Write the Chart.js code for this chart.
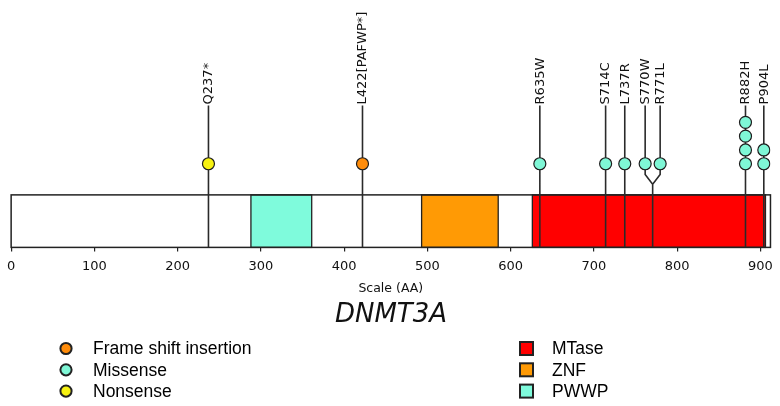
<!DOCTYPE html>
<html>
<head>
<meta charset="utf-8">
<title>DNMT3A</title>
<script src="https://cdn.jsdelivr.net/npm/chart.js@4.4.1/dist/chart.umd.min.js"></script>
<style>
  html, body { margin: 0; padding: 0; background: #fff; }
  canvas { display: block; }
</style>
</head>
<body>
<canvas id="myChart" width="780" height="406"></canvas>
<script>
// mutations (lollipops)
const mutationLabels = ['Q237*', 'L422[PAFWP*]', 'R635W', 'S714C', 'L737R', 'S770W', 'R771L', 'R882H', 'P904L'];
const mutationPositions = [237, 422, 635, 714, 737, 770, 771, 882, 904];
const mutationCounts = [1, 1, 1, 1, 1, 1, 1, 4, 2];
const mutationTypes = ['Nonsense', 'Frame shift insertion', 'Missense', 'Missense', 'Missense',
    'Missense', 'Missense', 'Missense', 'Missense'];

// protein domains
const domainNames = ['PWWP', 'ZNF', 'MTase'];
const domainStarts = [288, 493, 626];
const domainEnds = [361, 585, 906];
const proteinLength = 912;

const tickValues = [0, 100, 200, 300, 400, 500, 600, 700, 800, 900];

const typeColors = {
    'Frame shift insertion': '#ff8c0a',
    'Missense': '#7ff7d6',
    'Nonsense': '#f7f212'
};
const domainColors = { 'MTase': '#ff0000', 'ZNF': '#ff9a05', 'PWWP': '#7ffbdc' };
const legendTypes = ['Frame shift insertion', 'Missense', 'Nonsense'];
const legendDomains = ['MTase', 'ZNF', 'PWWP'];

// vertical layout (y units = pixels above the protein bottom)
const BOX_H = 54;
const FIRST_MARKER = 86;
const MARKER_STEP = 14.2;
const SPLIT_Y = 65;
const KNEE_Y = 75;
const LABEL_BASE = 146;
const SPREAD = 9;

// spread mutations that sit too close together
const displayX = mutationPositions.slice();
const baseX = mutationPositions.slice();
for (let i = 0; i < mutationPositions.length - 1; i++) {
    if (mutationPositions[i + 1] - mutationPositions[i] < 5) {
        const mid = (mutationPositions[i] + mutationPositions[i + 1]) / 2;
        displayX[i] = mid - SPREAD;
        displayX[i + 1] = mid + SPREAD;
        baseX[i] = mid;
        baseX[i + 1] = mid;
        i++;
    }
}

// stems
const stemData = [];
mutationPositions.forEach((p, i) => {
    stemData.push({ x: baseX[i], y: 0 });
    if (baseX[i] !== displayX[i]) {
        stemData.push({ x: baseX[i], y: SPLIT_Y });
        stemData.push({ x: displayX[i], y: KNEE_Y });
    }
    stemData.push({ x: displayX[i], y: LABEL_BASE });
    stemData.push({ x: displayX[i], y: null });
});

// markers, one dataset per mutation type
const markerSets = legendTypes.map(t => {
    const pts = [];
    mutationPositions.forEach((p, i) => {
        if (mutationTypes[i] !== t) return;
        for (let k = 0; k < mutationCounts[i]; k++) {
            pts.push({ x: displayX[i], y: FIRST_MARKER + k * MARKER_STEP });
        }
    });
    return {
        label: t,
        data: pts,
        showLine: false,
        pointRadius: 6,
        pointHoverRadius: 6,
        pointBorderWidth: 1.2,
        pointBorderColor: '#1e1e1e',
        pointBackgroundColor: typeColors[t],
        order: 1
    };
});

const proteinPlugin = {
    id: 'protein',
    beforeDatasetsDraw(chart) {
        const { ctx, scales: { x, y } } = chart;
        const top = y.getPixelForValue(BOX_H);
        const bottom = y.getPixelForValue(0);
        ctx.save();
        ctx.fillStyle = '#fff';
        ctx.fillRect(x.getPixelForValue(0), top, x.getPixelForValue(proteinLength) - x.getPixelForValue(0), bottom - top);
        domainNames.forEach((d, i) => {
            const x0 = x.getPixelForValue(domainStarts[i]);
            const x1 = x.getPixelForValue(domainEnds[i]);
            ctx.fillStyle = domainColors[d];
            ctx.fillRect(x0, top, x1 - x0, bottom - top);
            ctx.strokeStyle = '#222';
            ctx.lineWidth = 1.3;
            ctx.strokeRect(x0, top, x1 - x0, bottom - top);
        });
        ctx.strokeStyle = '#222';
        ctx.lineWidth = 1.5;
        ctx.strokeRect(x.getPixelForValue(0), top, x.getPixelForValue(proteinLength) - x.getPixelForValue(0), bottom - top);
        ctx.restore();
    },
    afterDatasetsDraw(chart) {
        const { ctx, scales: { x, y } } = chart;
        ctx.save();
        ctx.font = '13px "DejaVu Sans"';
        ctx.fillStyle = '#111';
        ctx.textAlign = 'left';
        ctx.textBaseline = 'middle';
        mutationLabels.forEach((lab, i) => {
            ctx.save();
            ctx.translate(x.getPixelForValue(displayX[i]), y.getPixelForValue(LABEL_BASE) - 1);
            ctx.rotate(-Math.PI / 2);
            ctx.fillText(lab, 0, 0.5);
            ctx.restore();
        });
        ctx.restore();
    },
    afterDraw(chart) {
        const ctx = chart.ctx;
        ctx.save();
        // gene name
        ctx.font = 'italic 26px "DejaVu Sans"';
        ctx.fillStyle = '#111';
        ctx.textAlign = 'center';
        ctx.textBaseline = 'middle';
        ctx.fillText('DNMT3A', 391, 315);

        // legend
        ctx.font = '17.5px "Liberation Sans"';
        ctx.textAlign = 'left';
        legendTypes.forEach((t, i) => {
            const cy = 348.5 + i * 21.3;
            ctx.beginPath();
            ctx.arc(66, cy, 5.6, 0, Math.PI * 2);
            ctx.fillStyle = typeColors[t];
            ctx.fill();
            ctx.lineWidth = 2;
            ctx.strokeStyle = '#222';
            ctx.stroke();
            ctx.fillStyle = '#000';
            ctx.fillText(t, 93, cy + 1);
        });
        legendDomains.forEach((d, i) => {
            const cy = 348.5 + i * 21.3;
            ctx.fillStyle = domainColors[d];
            ctx.fillRect(520, cy - 6.5, 13, 13);
            ctx.lineWidth = 2;
            ctx.strokeStyle = '#222';
            ctx.strokeRect(520, cy - 6.5, 13, 13);
            ctx.fillStyle = '#000';
            ctx.fillText(d, 552, cy + 1);
        });
        ctx.restore();
    }
};

const ctx = document.getElementById('myChart');

const config = {
    type: 'scatter',
    data: {
        datasets: [
            ...markerSets,
            {
                label: 'stems',
                data: stemData,
                showLine: true,
                spanGaps: false,
                borderColor: '#2a2a2a',
                borderWidth: 1.6,
                pointRadius: 0,
                pointHoverRadius: 0,
                order: 2
            }
        ]
    },
    options: {
        responsive: false,
        animation: false,
        events: [],
        layout: {
            padding: { left: 11, right: 9, top: 0, bottom: 110 }
        },
        scales: {
            x: {
                type: 'linear',
                min: 0,
                max: proteinLength,
                afterBuildTicks: axis => {
                    axis.ticks = tickValues.map(v => ({ value: v }));
                },
                grid: {
                    display: true,
                    drawOnChartArea: false,
                    drawTicks: true,
                    tickLength: 4,
                    color: '#222',
                    lineWidth: 1.2
                },
                border: { display: false },
                ticks: {
                    padding: 7,
                    color: '#111',
                    font: { family: 'DejaVu Sans', size: 13 },
                    maxRotation: 0
                },
                title: {
                    display: true,
                    text: 'Scale (AA)',
                    color: '#111',
                    font: { family: 'DejaVu Sans', size: 12.5 },
                    padding: { top: 0, bottom: 0 }
                }
            },
            y: {
                display: false,
                min: 0,
                max: 247
            }
        },
        plugins: {
            legend: { display: false },
            tooltip: { enabled: false }
        }
    },
    plugins: [proteinPlugin]
};

const myChart = new Chart(ctx, config);
</script>
</body>
</html>
